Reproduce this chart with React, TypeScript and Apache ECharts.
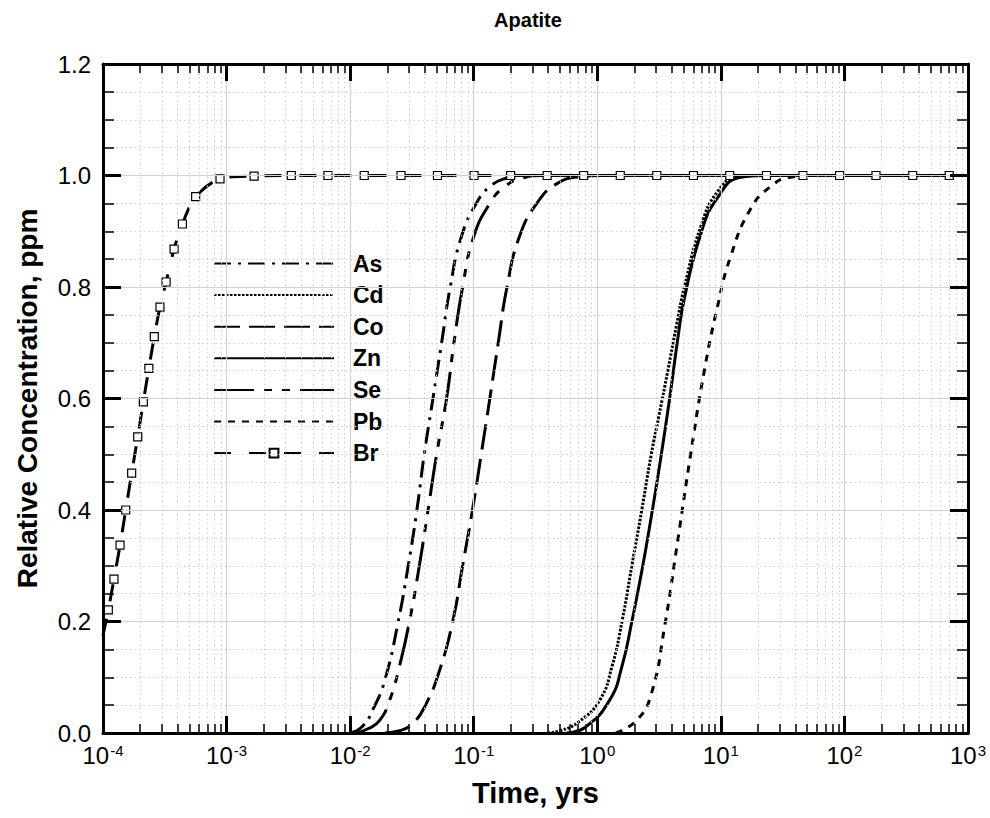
import React, { useEffect, useRef } from 'react';
import * as echarts from 'echarts';

const FONT = '"Liberation Sans", Arial, Helvetica, sans-serif';

// ---- data (time in years, relative concentration) ----
const asTime = [0.0100, 0.0126, 0.0155, 0.0191, 0.0245, 0.0295, 0.0347, 0.0398, 0.0468, 0.0550, 0.0646, 0.0794, 0.105, 0.135, 0.182, 0.251, 1000];
const asConc = [0.000, 0.012, 0.045, 0.095, 0.200, 0.300, 0.400, 0.500, 0.600, 0.700, 0.800, 0.890, 0.950, 0.980, 0.995, 1.000, 1.000];

const seTime = [0.0112, 0.0141, 0.0174, 0.0209, 0.0251, 0.0302, 0.0363, 0.0427, 0.0501, 0.0603, 0.0692, 0.0813, 0.100, 0.135, 0.178, 0.251, 0.355, 1000];
const seConc = [0.000, 0.008, 0.023, 0.059, 0.120, 0.200, 0.300, 0.400, 0.500, 0.600, 0.700, 0.800, 0.890, 0.950, 0.980, 0.996, 1.000, 1.000];

const coTime = [0.0191, 0.0251, 0.0324, 0.0407, 0.0525, 0.0676, 0.0813, 0.0977, 0.115, 0.135, 0.158, 0.186, 0.234, 0.324, 0.468, 0.741, 1.12, 1000];
const coConc = [0.000, 0.004, 0.018, 0.050, 0.110, 0.200, 0.300, 0.400, 0.500, 0.600, 0.700, 0.800, 0.890, 0.950, 0.985, 0.998, 1.000, 1.000];

const cdTime = [0.398, 0.501, 0.708, 1.047, 1.318, 1.585, 1.905, 2.291, 2.735, 3.162, 3.724, 4.365, 5.07, 6.92, 9.33, 13.5, 20, 1000];
const cdConc = [0.000, 0.004, 0.020, 0.059, 0.120, 0.200, 0.300, 0.400, 0.500, 0.570, 0.650, 0.730, 0.800, 0.910, 0.970, 0.997, 1.000, 1.000];

const znTime = [0.562, 0.794, 1.259, 1.585, 1.905, 2.291, 2.735, 3.289, 3.963, 4.467, 5.07, 6.92, 9.33, 14.45, 22.4, 1000];
const znConc = [0.000, 0.010, 0.059, 0.120, 0.200, 0.290, 0.388, 0.498, 0.620, 0.705, 0.780, 0.897, 0.959, 0.997, 1.000, 1.000];

const pbTime = [1.413, 2.09, 2.735, 3.5, 4.477, 5.74, 7.35, 9.4, 12.0, 17.4, 25.2, 36.6, 56.2, 1000];
const pbConc = [0.000, 0.023, 0.070, 0.190, 0.345, 0.505, 0.650, 0.765, 0.855, 0.940, 0.980, 0.997, 1.000, 1.000];

const brTime = [1.00e-4, 1.104e-4, 1.227e-4, 1.374e-4, 1.528e-4, 1.706e-4, 1.91e-4, 2.12e-4, 2.35e-4, 2.60e-4, 2.89e-4, 3.24e-4, 3.76e-4, 4.39e-4, 5.62e-4, 8.85e-4, 1.67e-3, 3.34e-3, 6.61e-3, 1.30e-2, 2.58e-2, 5.09e-2, 0.1007, 0.199, 0.393, 0.776, 1.535, 3.03, 6.0, 11.8, 23.4, 46.2, 91.4, 180, 357, 705, 1000];
const brConc = [0.175, 0.221, 0.276, 0.337, 0.400, 0.466, 0.531, 0.594, 0.654, 0.711, 0.764, 0.809, 0.868, 0.913, 0.962, 0.994, 0.999, 1, 1, 1, 1, 1, 1, 1, 1, 1, 1, 1, 1, 1, 1, 1, 1, 1, 1, 1, 1];

const seriesNames = ['As', 'Cd', 'Co', 'Zn', 'Se', 'Pb', 'Br'];
const decadeTicks = [1e-4, 1e-3, 1e-2, 1e-1, 1, 10, 100, 1000];
const yTicks = { min: 0, max: 1.2, interval: 0.2 };

function zip(t: number[], c: number[]) {
  return t.map((v, i) => [v, c[i]]);
}

export default function App() {
  const ref = useRef<HTMLDivElement>(null);
  useEffect(() => {
    document.body.style.margin = '0';
    if (!ref.current) return;
    const chart = echarts.init(ref.current, undefined, { renderer: 'svg' });

    const minorVals: number[] = [];
    for (let k = -4; k < 3; k++) {
      for (let m = 2; m <= 9; m++) minorVals.push(Number((m * Math.pow(10, k)).toPrecision(6)));
    }

    const baseX = { type: 'log', logBase: 10, min: 1e-4, max: 1e3, gridIndex: 0 };
    const black = '#000';
    const majorGrid = '#d2d2d2';
    const minorGrid = '#cfcfcf';

    const lineSeries = (name: string, data: any[], dash: any) => ({
      name,
      type: 'line',
      data,
      xAxisIndex: 0,
      yAxisIndex: 0,
      showSymbol: false,
      symbol: 'none',
      smooth: 0.5,
      silent: true,
      z: 3,
      itemStyle: { color: black },
      lineStyle: { color: black, width: 3, type: dash, cap: 'butt', join: 'round' },
      emphasis: { disabled: true },
    });

    const brData = brTime.map((t, i) => {
      const item: any = { value: [t, brConc[i]] };
      if (i === 0 || i === brTime.length - 1) item.symbol = 'none';
      return item;
    });

    const hiddenIcon = { opacity: 0, color: 'rgba(0,0,0,0)', borderWidth: 0 };

    const option: any = {
      animation: false,
      backgroundColor: '#fff',
      grid: { left: 103, right: 22, top: 64, bottom: 85, containLabel: false },
      graphic: [
        {
          type: 'text',
          x: 528,
          y: 10,
          style: {
            text: 'Apatite',
            align: 'center',
            verticalAlign: 'top',
            fontSize: 20,
            fontWeight: 'bold',
            fontFamily: FONT,
            fill: black,
          },
        },
      ],
      legend: {
        data: seriesNames.map((n) => (n === 'Br' ? { name: n } : { name: n, itemStyle: hiddenIcon })),
        orient: 'vertical',
        left: 205,
        top: 232,
        backgroundColor: '#fff',
        padding: [20, 10, 18, 8],
        itemWidth: 120,
        itemHeight: 11,
        itemGap: 8.6,
        selectedMode: false,
        z: 5,
        textStyle: {
          fontSize: 23,
          fontWeight: 'bold',
          fontFamily: FONT,
          color: black,
          lineHeight: 20,
          padding: [0, 0, 0, 14],
        },
      },
      xAxis: [
        {
          ...baseX,
          position: 'bottom',
          name: 'Time, yrs',
          nameLocation: 'middle',
          nameGap: 45,
          nameTextStyle: { fontSize: 29, fontWeight: 'bold', fontFamily: FONT, color: black },
          axisLine: { show: true, lineStyle: { color: black, width: 3 } },
          axisTick: { show: true, inside: true, length: 17, customValues: decadeTicks, lineStyle: { color: black, width: 3 } },
          axisLabel: {
            show: true,
            customValues: decadeTicks,
            margin: 10,
            formatter: (v: number) => `{b|10}{s|${Math.round(Math.log10(v))}}`,
            rich: {
              b: { fontSize: 24, fontFamily: FONT, color: black },
              s: { fontSize: 15, fontFamily: FONT, color: black, verticalAlign: 'top', padding: [0, 0, 0, 1] },
            },
          },
          splitLine: { show: true, lineStyle: { color: majorGrid, width: 1.2 } },
          minorTick: { show: false },
          z: 6,
        },
        {
          ...baseX,
          position: 'bottom',
          axisLine: { show: false },
          axisLabel: { show: false },
          axisTick: { show: true, inside: true, length: 9, customValues: minorVals, lineStyle: { color: black, width: 1.5 } },
          splitLine: { show: true, lineStyle: { color: minorGrid, width: 1, type: [1.5, 3] } },
          z: 6,
        },
        {
          ...baseX,
          position: 'top',
          axisLine: { show: true, lineStyle: { color: black, width: 3 } },
          axisLabel: { show: false },
          axisTick: { show: true, inside: true, length: 17, customValues: decadeTicks, lineStyle: { color: black, width: 3 } },
          splitLine: { show: false },
          z: 6,
        },
        {
          ...baseX,
          position: 'top',
          axisLine: { show: false },
          axisLabel: { show: false },
          axisTick: { show: true, inside: true, length: 9, customValues: minorVals, lineStyle: { color: black, width: 1.5 } },
          splitLine: { show: false },
          z: 6,
        },
      ],
      yAxis: [
        {
          type: 'value',
          position: 'left',
          min: yTicks.min,
          max: yTicks.max,
          interval: yTicks.interval,
          name: 'Relative Concentration, ppm',
          nameLocation: 'middle',
          nameGap: 62,
          nameTextStyle: { fontSize: 28, fontWeight: 'bold', fontFamily: FONT, color: black },
          axisLine: { show: true, lineStyle: { color: black, width: 3 } },
          axisTick: { show: true, inside: true, length: 18, lineStyle: { color: black, width: 3 } },
          minorTick: { show: true, splitNumber: 4, length: 11, lineStyle: { color: black, width: 1.5 } },
          axisLabel: {
            margin: 12,
            fontSize: 24,
            fontFamily: FONT,
            color: black,
            formatter: (v: number) => v.toFixed(1),
          },
          splitLine: { show: true, lineStyle: { color: majorGrid, width: 1.2 } },
          minorSplitLine: { show: true, lineStyle: { color: minorGrid, width: 1, type: [1.5, 3] } },
          z: 6,
        },
        {
          type: 'value',
          position: 'right',
          min: yTicks.min,
          max: yTicks.max,
          interval: yTicks.interval,
          axisLine: { show: true, lineStyle: { color: black, width: 3 } },
          axisTick: { show: true, inside: true, length: 18, lineStyle: { color: black, width: 3 } },
          minorTick: { show: true, splitNumber: 4, length: 11, lineStyle: { color: black, width: 1.5 } },
          axisLabel: { show: false },
          splitLine: { show: false },
          z: 6,
        },
      ],
      series: [
        lineSeries('As', zip(asTime, asConc), [17, 7, 3, 7]),
        lineSeries('Cd', zip(cdTime, cdConc), [2.5, 1.5]),
        lineSeries('Co', zip(coTime, coConc), [26, 9]),
        lineSeries('Zn', zip(znTime, znConc), 'solid'),
        lineSeries('Se', zip(seTime, seConc), [40, 10, 8, 10, 8, 10]),
        lineSeries('Pb', zip(pbTime, pbConc), [7, 7]),
        {
          ...lineSeries('Br', brData, [17, 18]),
          smooth: 0.3,
          showSymbol: true,
          symbol: 'rect',
          symbolSize: 8,
          itemStyle: { color: '#fff', borderColor: black, borderWidth: 1.2 },
        },
      ],
    };

    chart.setOption(option);
    return () => chart.dispose();
  }, []);

  return <div ref={ref} style={{ width: 990, height: 818 }} />;
}
